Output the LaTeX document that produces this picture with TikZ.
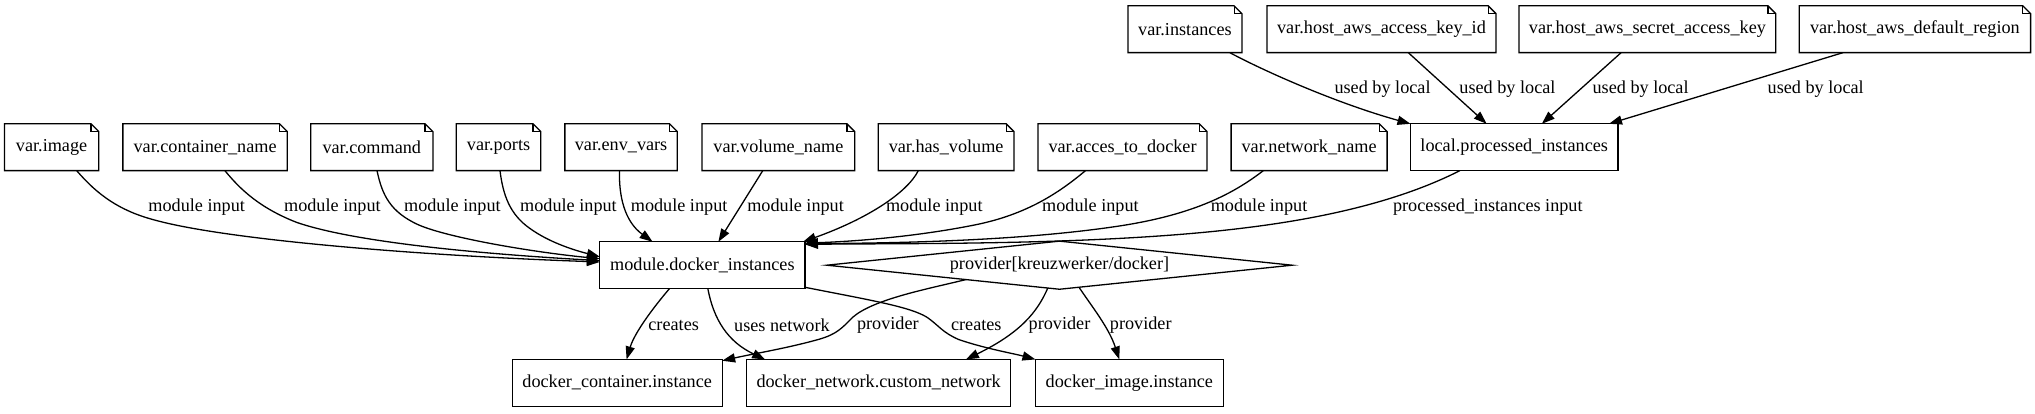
\documentclass[tikz,border=0pt]{standalone}
\usepackage{fontspec}
\setmainfont{Liberation Serif}
\usetikzlibrary{arrows.meta,calc}
\tikzset{
  every node/.style={font=\fontsize{14pt}{16.8pt}\selectfont, outer sep=0pt},
  box/.style={draw, line width=1pt, rectangle, minimum height=36pt, inner xsep=3pt, inner ysep=0pt},
  notebox/.style={rectangle, minimum height=36pt, inner xsep=3pt, inner ysep=0pt},
  lbl/.style={inner sep=0pt},
  arr/.style={line width=1pt, -{Triangle[length=10pt,width=7pt]}},
  outline/.style={line width=1pt, line join=miter},
}
\begin{document}
\begin{tikzpicture}[x=1pt,y=-1pt]
\useasboundingbox (0,0) rectangle (1565.4,317.7);
% row 1
\node[notebox, minimum width=87.7pt]  (vinst)  at (911.5,22.5)  {var.instances};
\node[notebox, minimum width=176.2pt] (vakey)  at (1062.7,22.5) {var.host\_aws\_access\_key\_id};
\node[notebox, minimum width=197.5pt] (vskey)  at (1267.25,22.5) {var.host\_aws\_secret\_access\_key};
\node[notebox, minimum width=178pt]   (vreg)   at (1473,22.5)   {var.host\_aws\_default\_region};
% row 2
\node[notebox, minimum width=72.6pt]  (vimage) at (39.7,113.25)  {var.image};
\node[notebox, minimum width=126.5pt] (vcname) at (157.75,113.25) {var.container\_name};
\node[notebox, minimum width=94pt]    (vcmd)   at (286,113.25)   {var.command};
\node[notebox, minimum width=65pt]    (vports) at (383.5,113.25) {var.ports};
\node[notebox, minimum width=86.5pt]  (venv)   at (477.75,113.25) {var.env\_vars};
\node[notebox, minimum width=117.5pt] (vvol)   at (598.75,113.25) {var.volume\_name};
\node[notebox, minimum width=104.4pt] (vhas)   at (727.8,113.25) {var.has\_volume};
\node[notebox, minimum width=130pt]   (vacc)   at (863.5,113.25) {var.acces\_to\_docker};
\node[notebox, minimum width=120pt]   (vnet)   at (1007,113.25)  {var.network\_name};
\node[box, minimum width=159.6pt]     (local)  at (1164.8,113.25) {local.processed\_instances};
% row 3
\node[box, minimum width=157.8pt]     (module) at (540.3,204) {module.docker\_instances};
\node[notebox, minimum width=358pt, minimum height=37pt] (prov) at (815,204) {provider[kreuzwerker/docker]};
% row 4
\node[box, minimum width=161.5pt]     (dcont)  at (474.75,294.5) {docker\_container.instance};
\node[box, minimum width=203pt]       (dnet)   at (675.85,294.5) {docker\_network.custom\_network};
\node[box, minimum width=144.5pt]     (dimg)   at (868.75,294.5) {docker\_image.instance};

% note outlines
\foreach \n in {vinst,vakey,vskey,vreg,vimage,vcname,vcmd,vports,venv,vvol,vhas,vacc,vnet}{
  \draw[outline] (\n.north west) -- ($(\n.north east)+(-6,0)$) -- ($(\n.north east)+(0,6)$) -- (\n.south east) -- (\n.south west) -- cycle;
  \draw[outline] ($(\n.north east)+(-6,0)$) -- ($(\n.north east)+(-6,6)$) -- ($(\n.north east)+(0,6)$);
}
% diamond
\draw[outline] (prov.west) -- (prov.north) -- (prov.east) -- (prov.south) -- cycle;

% row 2 -> module
\draw[arr] ($(vimage.south)+(19.3,0)$) .. controls (75,150) and (92,162) .. (118,169) .. controls (175,185) and (330,197) .. ($(module.west)+(0,-2.5)$);
\draw[arr] ($(vcname.south)+(15.25,0)$) .. controls (185,146) and (200,160) .. (228,171) .. controls (280,189) and (400,197) .. ($(module.west)+(0,-3.5)$);
\draw[arr] ($(vcmd.south)+(4,0)$) .. controls (294,150) and (300,163) .. (322,173) .. controls (345,183) and (410,194) .. ($(module.west)+(0,-5)$);
\draw[arr] ($(vports.south)+(1.1,0)$) .. controls (387,150) and (392,165) .. (408,176) .. controls (422,186) and (440,192) .. ($(module.west)+(0,-6.5)$);
\draw[arr] ($(venv.south)+(-1.2,0)$) .. controls (476,150) and (480,170) .. ($(module.north)+(-38.3,0)$);
\draw[arr] ($(vvol.south)+(-12,0)$) -- ($(module.north)+(12.3,0)$);
\draw[arr] ($(vhas.south)+(-21.4,0)$) .. controls (698,148) and (668,168) .. ($(module.north east)+(-1.5,0)$);
\draw[arr] ($(vacc.south)+(-28.5,0)$) .. controls (815,148) and (790,165) .. (750,173) .. controls (700,183) and (650,186) .. ($(module.north east)+(0,1)$);
\draw[arr] ($(vnet.south)+(-35.2,0)$) .. controls (950,148) and (920,165) .. (860,174) .. controls (780,186) and (680,187) .. ($(module.north east)+(0,1.5)$);
\draw[arr] ($(local.south)+(-41.8,0)$) .. controls (1090,148) and (1040,165) .. (960,175) .. controls (850,189) and (700,187) .. ($(module.north east)+(0,2)$);

% row 1 -> local
\draw[arr] ($(vinst.south)+(34.5,0)$) .. controls (975,56) and (1030,80) .. (local.north west);
\draw[arr] ($(vakey.south)+(20.6,0)$) -- ($(local.north)+(-21.2,0)$);
\draw[arr] ($(vskey.south)+(-20.25,0)$) -- ($(local.north)+(21.2,0)$);
\draw[arr] ($(vreg.south)+(-55.3,0)$) -- ($(local.north)+(72.9,0)$);

% row 3 -> row 4
\draw[arr] ($(module.south)+(-25.3,0)$) .. controls (503,236) and (488,256) .. ($(dcont.north)+(7.25,0)$);
\draw[arr] ($(module.south)+(4.2,0)$) .. controls (549,246) and (560,263) .. ($(dnet.north)+(-87.25,0)$);
\draw[arr] ($(module.south east)+(0,-1)$) .. controls (670,231) and (700,236) .. (713,244) .. controls (723,251) and (724,255) .. (737,261) .. controls (757,268) and (780,272) .. (dimg.north west);
\draw[arr] ($(prov.center)+(-72,11.06)$) .. controls (715,222) and (672,230) .. (656,244) .. controls (648,252) and (644,257) .. (630,261) .. controls (605,268) and (580,272) .. ($(dcont.north east)+(0,1)$);
\draw[arr] ($(prov.center)+(-9,17.57)$) .. controls (798,240) and (785,256) .. ($(dnet.north)+(67.15,0)$);
\draw[arr] ($(prov.center)+(15,16.95)$) .. controls (840,236) and (853,252) .. ($(dimg.north)+(-7.75,0)$);

% labels
\node[lbl] (l1) at (1063.5,68.7) {used by local};
\node[lbl] (l2) at (1159.6,68.7) {used by local};
\node[lbl] (l3) at (1262,68.7) {used by local};
\node[lbl] (l4) at (1396.7,68.7) {used by local};
\node[lbl] (m1) at (151.3,159.5) {module input};
\node[lbl] (m2) at (255.7,159.5) {module input};
\node[lbl] (m3) at (348,159.5) {module input};
\node[lbl] (m4) at (437.3,159.5) {module input};
\node[lbl] (m5) at (522.4,159.5) {module input};
\node[lbl] (m6) at (612,159.5) {module input};
\node[lbl] (m7) at (718.7,159.5) {module input};
\node[lbl] (m8) at (838.8,159.5) {module input};
\node[lbl] (m9) at (968.5,159.5) {module input};
\node[lbl] (m10) at (1144.5,159.5) {processed\_instances input};
\node[lbl] (c1) at (518.2,250) {creates};
\node[lbl] (c2) at (601.5,250) {uses network};
\node[lbl] (c3) at (683,250) {provider};
\node[lbl] (c4) at (751,250) {creates};
\node[lbl] (c5) at (815,250) {provider};
\node[lbl] (c6) at (877.5,250) {provider};
\end{tikzpicture}
\end{document}
